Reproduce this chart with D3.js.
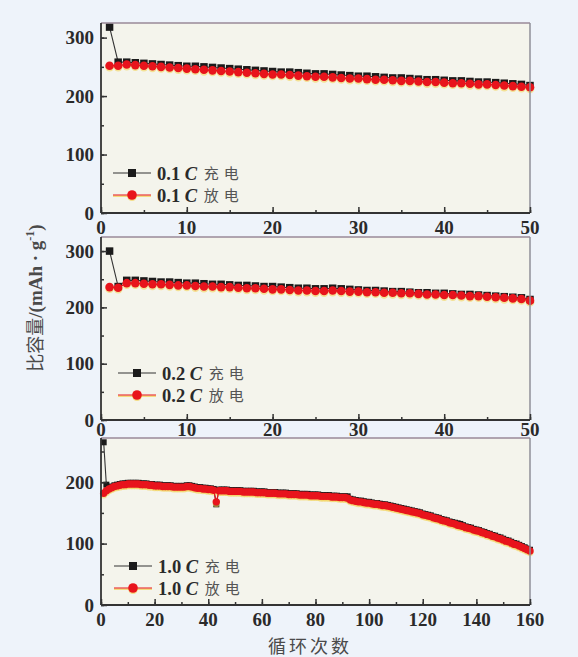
<!DOCTYPE html>
<html><head><meta charset="utf-8">
<script src="https://cdn.jsdelivr.net/npm/d3@7/dist/d3.min.js"></script>
<style>
html,body{margin:0;padding:0;background:#eef3fa;}
svg{display:block;}
</style></head>
<body>
<script>
// ---------- data ----------
const rateLabels = ["0.1", "0.2", "1.0"];
const chargeText = "充电";
const dischargeText = "放电";
const xTitle = "循环次数";
const yTitle = "比容量/(mAh · g";

const xTicksShort = [0, 10, 20, 30, 40, 50];
const xTicksLong = [0, 20, 40, 60, 80, 100, 120, 140, 160];
const yTicks = [0, 100, 200, 300];
const yTicks3 = [0, 100, 200];

const charge01 = [318,258,258,257,256,255,254,253,252,251,251,250,249,248,247,246,245,244,243,242,
  241,241,240,239,238,238,237,236,235,234,234,233,232,231,231,230,229,228,228,227,
  226,226,225,224,224,223,222,221,220,218];
const discharge01 = [252,252,254,253,252,251,250,249,248,247,246,245,244,243,242,241,240,239,238,237,
  237,236,235,234,233,233,232,231,230,230,229,228,228,227,226,226,225,224,224,223,
  222,222,221,220,220,219,218,217,216,215];

const charge02 = [300,237,248,248,247,246,245,245,244,243,243,242,241,241,240,239,239,238,237,237,
  236,235,234,234,233,233,234,233,232,231,230,230,229,228,228,227,226,226,225,225,
  224,223,223,222,221,220,219,218,217,214];
const discharge02 = [236,235,243,243,242,241,241,240,239,239,238,237,237,236,236,235,234,234,233,232,
  232,231,230,230,229,229,230,229,228,228,227,227,226,226,225,225,224,223,223,222,
  222,221,220,220,219,218,217,216,215,212];

const charge10 = [265,196,192,193,195,196,197,198,198,199,
  199,199,199,199,198,198,198,197,197,196,
  196,196,195,195,195,195,194,194,194,194,
  194,195,195,194,193,192,192,191,191,190,
  190,189,164,188,188,188,188,187,187,187,
  187,187,186,186,186,186,186,185,185,185,
  185,184,184,184,184,183,183,183,183,182,
  182,182,182,181,181,181,181,180,180,180,
  180,179,179,179,179,178,178,178,177,177,
  177,177,173,172,171,170,170,169,168,168,
  167,166,166,165,164,164,163,162,161,160,
  159,158,157,156,155,154,153,152,151,149,
  148,147,146,144,143,142,140,139,138,136,
  135,134,133,132,130,128,127,126,124,123,
  122,120,119,117,116,114,113,111,110,108,
  106,105,103,101,100,98,96,94,92,90];
const discharge10 = [182,186,189,191,193,194,195,196,196,197,
  197,197,197,197,196,196,196,195,195,194,
  194,194,193,193,193,193,192,192,192,192,
  192,193,193,192,191,190,190,189,189,188,
  188,187,168,186,186,186,186,185,185,185,
  185,185,184,184,184,184,184,183,183,183,
  183,182,182,182,182,181,181,181,181,180,
  180,180,180,179,179,179,179,178,178,178,
  178,177,177,177,177,176,176,176,175,175,
  175,174,171,170,169,168,168,167,166,166,
  165,164,164,163,162,162,161,160,159,158,
  157,156,155,154,153,152,151,150,149,147,
  146,145,144,142,141,140,138,137,136,134,
  133,132,130,129,128,126,125,124,122,121,
  120,118,117,115,114,112,111,109,108,106,
  104,103,101,99,98,96,94,92,90,88];

// ---------- layout ----------
const W = 578, H = 657;
const RED = "#e8141c", BLACK = "#1b1b1b";
const svg = d3.select("body").append("svg").attr("width", W).attr("height", H);
svg.append("rect").attr("width", W).attr("height", H).attr("fill", "#eef3fa");

const panels = [
  {top: 23, bottom: 213, xmax: 50, ymax: 325, xt: xTicksShort, xminor: 5, yt: yTicks,
   ch: charge01, dis: discharge01, rate: rateLabels[0], labelBase: 234, leg: {x: 113, y1: 173, y2: 195}, r: 4.3, sq: 7.5},
  {top: 237, bottom: 420, xmax: 50, ymax: 325, xt: xTicksShort, xminor: 5, yt: yTicks,
   ch: charge02, dis: discharge02, rate: rateLabels[1], labelBase: 436, leg: {x: 118, y1: 373, y2: 395}, r: 4.3, sq: 7.5},
  {top: 438, bottom: 605, xmax: 160, ymax: 272, xt: xTicksLong, xminor: 10, yt: yTicks3,
   ch: charge10, dis: discharge10, rate: rateLabels[2], labelBase: 626, leg: {x: 114, y1: 566, y2: 588}, r: 3.7, sq: 6}
];
const L = 101, R = 530;
const serif = "'Liberation Serif','Times New Roman',serif";
const cjk = "'Noto Sans CJK SC','Noto Sans CJK JP',sans-serif";

panels.forEach(p => {
  const x = d3.scaleLinear().domain([0, p.xmax]).range([L, R]);
  const y = d3.scaleLinear().domain([0, p.ymax]).range([p.bottom, p.top]);
  const g = svg.append("g");

  g.append("rect").attr("x", L).attr("y", p.top).attr("width", R - L).attr("height", p.bottom - p.top)
    .attr("fill", "#f4f4ec");

  // series
  const ptsC = p.ch.map((v, i) => [i + 1, v]);
  const ptsD = p.dis.map((v, i) => [i + 1, v]);
  const line = d3.line().x(d => x(d[0])).y(d => y(d[1]));

  g.append("path").datum(ptsC).attr("d", line).attr("fill", "none").attr("stroke", "#333").attr("stroke-width", 1.1);
  g.selectAll(".sq").data(ptsC).enter().append("rect")
    .attr("x", d => x(d[0]) - p.sq / 2).attr("y", d => y(d[1]) - p.sq / 2)
    .attr("width", p.sq).attr("height", p.sq).attr("fill", BLACK);

  // yellow fringe under red markers
  g.selectAll(".glow").data(ptsD).enter().append("circle")
    .attr("cx", d => x(d[0])).attr("cy", d => y(d[1]) + 1.6).attr("r", p.r)
    .attr("fill", "#f3d35a").attr("opacity", 0.6);
  g.append("path").datum(ptsD).attr("d", line).attr("fill", "none").attr("stroke", RED).attr("stroke-width", 1.2);
  g.selectAll(".ci").data(ptsD).enter().append("circle")
    .attr("cx", d => x(d[0])).attr("cy", d => y(d[1])).attr("r", p.r)
    .attr("fill", RED);

  // frame
  g.append("line").attr("x1", L).attr("x2", R).attr("y1", p.top).attr("y2", p.top).attr("stroke", "#9a8a98").attr("stroke-width", 1.5);
  g.append("line").attr("x1", R).attr("x2", R).attr("y1", p.top).attr("y2", p.bottom).attr("stroke", "#8f8f98").attr("stroke-width", 1.5);

  // axes with inward ticks
  const minorX = d3.range(0, p.xmax + 0.001, p.xminor);
  g.append("g").attr("transform", `translate(0,${p.bottom})`).call(d3.axisTop(x).tickValues(minorX).tickSize(3).tickFormat(""))
    .call(a => a.select(".domain").remove()).selectAll("line").attr("stroke", "#333").attr("stroke-width", 1.5);
  g.append("g").attr("transform", `translate(0,${p.bottom})`).call(d3.axisTop(x).tickValues(p.xt).tickSize(6).tickFormat(""))
    .call(a => a.select(".domain").remove()).selectAll("line").attr("stroke", "#333").attr("stroke-width", 1.5);

  const yMinor = d3.range(0, p.ymax, 50);
  g.append("g").attr("transform", `translate(${L},0)`).call(d3.axisRight(y).tickValues(yMinor).tickSize(3).tickFormat(""))
    .call(a => a.select(".domain").remove()).selectAll("line").attr("stroke", "#333").attr("stroke-width", 1.5);
  g.append("g").attr("transform", `translate(${L},0)`).call(d3.axisRight(y).tickValues(p.yt).tickSize(6).tickFormat(""))
    .call(a => a.select(".domain").remove()).selectAll("line").attr("stroke", "#333").attr("stroke-width", 1.5);

  g.append("line").attr("x1", L).attr("x2", R).attr("y1", p.bottom).attr("y2", p.bottom).attr("stroke", "#333").attr("stroke-width", 1.8);
  g.append("line").attr("x1", L).attr("x2", L).attr("y1", p.top).attr("y2", p.bottom).attr("stroke", "#333").attr("stroke-width", 1.8);

  // tick labels
  g.selectAll(".xl").data(p.xt).enter().append("text")
    .attr("x", d => x(d)).attr("y", p.labelBase).attr("text-anchor", "middle")
    .attr("font-family", serif).attr("font-weight", "bold").attr("font-size", 19).attr("fill", "#2a2a2a")
    .text(d => d);
  g.selectAll(".yl").data(p.yt).enter().append("text")
    .attr("x", 94).attr("y", d => y(d) + 6.5).attr("text-anchor", "end")
    .attr("font-family", serif).attr("font-weight", "bold").attr("font-size", 19).attr("fill", "#2a2a2a")
    .text(d => d);

  // legend
  const lx = p.leg.x, lw = 38;
  g.append("line").attr("x1", lx).attr("x2", lx + lw).attr("y1", p.leg.y1).attr("y2", p.leg.y1).attr("stroke", "#333").attr("stroke-width", 1.2);
  g.append("rect").attr("x", lx + lw / 2 - 4).attr("y", p.leg.y1 - 4).attr("width", 8).attr("height", 8).attr("fill", BLACK);
  g.append("line").attr("x1", lx).attr("x2", lx + lw).attr("y1", p.leg.y2 + 1.2).attr("y2", p.leg.y2 + 1.2).attr("stroke", "#f3d35a").attr("stroke-width", 1.2);
  g.append("line").attr("x1", lx).attr("x2", lx + lw).attr("y1", p.leg.y2).attr("y2", p.leg.y2).attr("stroke", RED).attr("stroke-width", 1.2);
  g.append("circle").attr("cx", lx + lw / 2).attr("cy", p.leg.y2 + 1.3).attr("r", 4.8).attr("fill", "#f3d35a").attr("opacity", 0.7);
  g.append("circle").attr("cx", lx + lw / 2).attr("cy", p.leg.y2).attr("r", 4.8).attr("fill", RED);

  [[p.leg.y1, chargeText], [p.leg.y2, dischargeText]].forEach(([yy, word]) => {
    const t = g.append("text").attr("x", lx + lw + 6).attr("y", yy + 6.5)
      .attr("font-family", serif).attr("font-weight", "bold").attr("font-size", 18.5).attr("fill", "#2a2a2a");
    t.append("tspan").text(p.rate + " ");
    t.append("tspan").attr("font-style", "italic").text("C");
    const bb = t.node().getBBox();
    g.append("text").attr("x", bb.x + bb.width + 6).attr("y", yy + 6)
      .attr("font-family", cjk).attr("font-size", 15).attr("fill", "#555")
      .attr("letter-spacing", 5).text(word);
  });
});

// axis titles
svg.append("text").attr("x", 310).attr("y", 653).attr("text-anchor", "middle")
  .attr("font-family", cjk).attr("font-size", 18).attr("letter-spacing", 3).attr("fill", "#4a4a4a").text(xTitle);

const yt = svg.append("text").attr("transform", "translate(42,298) rotate(-90)").attr("text-anchor", "middle")
  .attr("font-family", serif).attr("font-weight", "bold").attr("font-size", 19).attr("fill", "#4a4a4a");
yt.append("tspan").attr("font-family", cjk).attr("font-weight", "normal").attr("font-size", 18).text("比容量");
yt.append("tspan").text("/(mAh · g");
yt.append("tspan").attr("dy", -8).attr("font-size", 12).text("-1");
yt.append("tspan").attr("dy", 8).text(")");
</script>
</body></html>
